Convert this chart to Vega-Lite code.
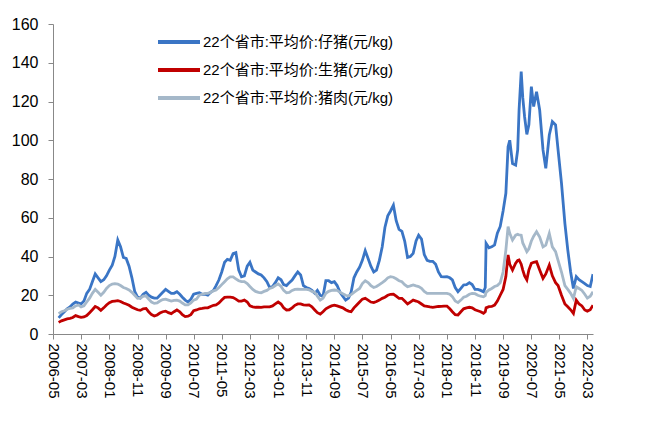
{
 "$schema": "https://vega.github.io/schema/vega-lite/v6.json",
 "width": 540, "height": 310,
 "autosize": {"type": "none"},
 "padding": {"left": 53, "top": 24, "right": 55, "bottom": 108},
 "config": {"view": {"stroke": null}, "font": "Liberation Sans, Noto Sans CJK SC", "background": "white"},
 "data": {"values": [
 {"date":"2006-07-01","piglet":8.3,"hog":6.0,"pork":10.5},
 {"date":"2006-08-01","piglet":10,"hog":6.8,"pork":11.5},
 {"date":"2006-09-01","piglet":11.5,"hog":7.3,"pork":12},
 {"date":"2006-10-01","piglet":13,"hog":7.8,"pork":12.8},
 {"date":"2006-11-01","piglet":14,"hog":8.1,"pork":13.2},
 {"date":"2006-12-01","piglet":15.5,"hog":8.5,"pork":13.5},
 {"date":"2007-01-01","piglet":16.5,"hog":9.5,"pork":14.5},
 {"date":"2007-02-01","piglet":16,"hog":9.0,"pork":15},
 {"date":"2007-03-01","piglet":15.5,"hog":8.6,"pork":14},
 {"date":"2007-04-01","piglet":17,"hog":8.8,"pork":14.5},
 {"date":"2007-05-01","piglet":21,"hog":9.5,"pork":16.5},
 {"date":"2007-06-01","piglet":23,"hog":11,"pork":18.5},
 {"date":"2007-07-01","piglet":27,"hog":12.5,"pork":21},
 {"date":"2007-08-01","piglet":31,"hog":14.2,"pork":23},
 {"date":"2007-09-01","piglet":29,"hog":13.5,"pork":21.5},
 {"date":"2007-10-01","piglet":27,"hog":12.2,"pork":20},
 {"date":"2007-11-01","piglet":28,"hog":13.5,"pork":21.5},
 {"date":"2007-12-01","piglet":30,"hog":15,"pork":23.5},
 {"date":"2008-01-01","piglet":33,"hog":16.2,"pork":25},
 {"date":"2008-02-01","piglet":35.5,"hog":16.8,"pork":25.8},
 {"date":"2008-03-01","piglet":40,"hog":17,"pork":26},
 {"date":"2008-04-01","piglet":48.5,"hog":17.2,"pork":25.8},
 {"date":"2008-05-01","piglet":45,"hog":16.8,"pork":25},
 {"date":"2008-06-01","piglet":39.5,"hog":16,"pork":24},
 {"date":"2008-07-01","piglet":39,"hog":15.5,"pork":23.5},
 {"date":"2008-08-01","piglet":35,"hog":14.8,"pork":22.7},
 {"date":"2008-09-01","piglet":29,"hog":13.8,"pork":21.5},
 {"date":"2008-10-01","piglet":22,"hog":13.2,"pork":20},
 {"date":"2008-11-01","piglet":19,"hog":12.5,"pork":18.4},
 {"date":"2008-12-01","piglet":18.5,"hog":12.2,"pork":18.5},
 {"date":"2009-01-01","piglet":20.5,"hog":13,"pork":19.5},
 {"date":"2009-02-01","piglet":21.5,"hog":13.2,"pork":19.6},
 {"date":"2009-03-01","piglet":20,"hog":11.5,"pork":18},
 {"date":"2009-04-01","piglet":19,"hog":10,"pork":16.5},
 {"date":"2009-05-01","piglet":18.5,"hog":9.3,"pork":15.8},
 {"date":"2009-06-01","piglet":18.5,"hog":9.8,"pork":16},
 {"date":"2009-07-01","piglet":20,"hog":10.8,"pork":17},
 {"date":"2009-08-01","piglet":21.5,"hog":11.5,"pork":17.8},
 {"date":"2009-09-01","piglet":23,"hog":11.8,"pork":18},
 {"date":"2009-10-01","piglet":22,"hog":11,"pork":17.5},
 {"date":"2009-11-01","piglet":21,"hog":10.5,"pork":17},
 {"date":"2009-12-01","piglet":21,"hog":11.5,"pork":17.3},
 {"date":"2010-01-01","piglet":21.8,"hog":12.4,"pork":17.5},
 {"date":"2010-02-01","piglet":20.5,"hog":11.5,"pork":17},
 {"date":"2010-03-01","piglet":19,"hog":10,"pork":16},
 {"date":"2010-04-01","piglet":17.5,"hog":9,"pork":15},
 {"date":"2010-05-01","piglet":16.5,"hog":9.2,"pork":15},
 {"date":"2010-06-01","piglet":18,"hog":10,"pork":16},
 {"date":"2010-07-01","piglet":20.5,"hog":12,"pork":17.5},
 {"date":"2010-08-01","piglet":21,"hog":12.4,"pork":18},
 {"date":"2010-09-01","piglet":21.3,"hog":13,"pork":20},
 {"date":"2010-10-01","piglet":20.5,"hog":13.2,"pork":20.5},
 {"date":"2010-11-01","piglet":20.5,"hog":13.5,"pork":21},
 {"date":"2010-12-01","piglet":20,"hog":13.5,"pork":21},
 {"date":"2011-01-01","piglet":21.5,"hog":14.2,"pork":21.5},
 {"date":"2011-02-01","piglet":22.5,"hog":14.8,"pork":22.3},
 {"date":"2011-03-01","piglet":25,"hog":15,"pork":22.7},
 {"date":"2011-04-01","piglet":28,"hog":16,"pork":24},
 {"date":"2011-05-01","piglet":32,"hog":17.5,"pork":25.5},
 {"date":"2011-06-01","piglet":37,"hog":18.9,"pork":27},
 {"date":"2011-07-01","piglet":38.5,"hog":19,"pork":28.5},
 {"date":"2011-08-01","piglet":38,"hog":19,"pork":29.5},
 {"date":"2011-09-01","piglet":41.5,"hog":18.8,"pork":29.5},
 {"date":"2011-10-01","piglet":42,"hog":18,"pork":28.5},
 {"date":"2011-11-01","piglet":33,"hog":17,"pork":27.5},
 {"date":"2011-12-01","piglet":29.5,"hog":17,"pork":27},
 {"date":"2012-01-01","piglet":30,"hog":17.5,"pork":27},
 {"date":"2012-02-01","piglet":35,"hog":16.5,"pork":26},
 {"date":"2012-03-01","piglet":37,"hog":14.5,"pork":24.5},
 {"date":"2012-04-01","piglet":33,"hog":14,"pork":23},
 {"date":"2012-05-01","piglet":32,"hog":13.8,"pork":22},
 {"date":"2012-06-01","piglet":31,"hog":13.8,"pork":21.5},
 {"date":"2012-07-01","piglet":30.5,"hog":13.7,"pork":21.3},
 {"date":"2012-08-01","piglet":29,"hog":14,"pork":22},
 {"date":"2012-09-01","piglet":27,"hog":14,"pork":22.5},
 {"date":"2012-10-01","piglet":24,"hog":14,"pork":23.5},
 {"date":"2012-11-01","piglet":24.5,"hog":14.5,"pork":24},
 {"date":"2012-12-01","piglet":26.5,"hog":15.5,"pork":25},
 {"date":"2013-01-01","piglet":29,"hog":16.5,"pork":25.8},
 {"date":"2013-02-01","piglet":28,"hog":15.5,"pork":24.5},
 {"date":"2013-03-01","piglet":25.5,"hog":13.5,"pork":22.5},
 {"date":"2013-04-01","piglet":25,"hog":12.4,"pork":21.3},
 {"date":"2013-05-01","piglet":26.5,"hog":12.5,"pork":21.5},
 {"date":"2013-06-01","piglet":27.8,"hog":13.5,"pork":22.5},
 {"date":"2013-07-01","piglet":30,"hog":14.8,"pork":23},
 {"date":"2013-08-01","piglet":32,"hog":15.5,"pork":23.2},
 {"date":"2013-09-01","piglet":30.5,"hog":15.5,"pork":23},
 {"date":"2013-10-01","piglet":25,"hog":15,"pork":23},
 {"date":"2013-11-01","piglet":24,"hog":14.9,"pork":23},
 {"date":"2013-12-01","piglet":23.5,"hog":15,"pork":22.8},
 {"date":"2014-01-01","piglet":22.5,"hog":14,"pork":22},
 {"date":"2014-02-01","piglet":21,"hog":12.4,"pork":21.5},
 {"date":"2014-03-01","piglet":22.5,"hog":11,"pork":19.5},
 {"date":"2014-04-01","piglet":20,"hog":10.3,"pork":17.5},
 {"date":"2014-05-01","piglet":19.5,"hog":11.5,"pork":18.5},
 {"date":"2014-06-01","piglet":27.5,"hog":13,"pork":21},
 {"date":"2014-07-01","piglet":27.5,"hog":13.8,"pork":22},
 {"date":"2014-08-01","piglet":26.5,"hog":14.5,"pork":22.5},
 {"date":"2014-09-01","piglet":27,"hog":14.9,"pork":22.7},
 {"date":"2014-10-01","piglet":25,"hog":14.5,"pork":22.5},
 {"date":"2014-11-01","piglet":21.5,"hog":14,"pork":21.5},
 {"date":"2014-12-01","piglet":19.5,"hog":13.5,"pork":20.8},
 {"date":"2015-01-01","piglet":17.5,"hog":12.5,"pork":20},
 {"date":"2015-02-01","piglet":18.5,"hog":11.8,"pork":19.6},
 {"date":"2015-03-01","piglet":21.5,"hog":11.5,"pork":20.3},
 {"date":"2015-04-01","piglet":29,"hog":13.5,"pork":21.5},
 {"date":"2015-05-01","piglet":32,"hog":15,"pork":22.5},
 {"date":"2015-06-01","piglet":34.5,"hog":16.5,"pork":23.5},
 {"date":"2015-07-01","piglet":38,"hog":18,"pork":26},
 {"date":"2015-08-01","piglet":43,"hog":18.4,"pork":27.5},
 {"date":"2015-09-01","piglet":39,"hog":17.5,"pork":26.5},
 {"date":"2015-10-01","piglet":35,"hog":16.5,"pork":25},
 {"date":"2015-11-01","piglet":32,"hog":16.2,"pork":24},
 {"date":"2015-12-01","piglet":33,"hog":16.8,"pork":24.5},
 {"date":"2016-01-01","piglet":38,"hog":17.5,"pork":25.5},
 {"date":"2016-02-01","piglet":45,"hog":18.4,"pork":26.5},
 {"date":"2016-03-01","piglet":55,"hog":19,"pork":27.5},
 {"date":"2016-04-01","piglet":61,"hog":20,"pork":29},
 {"date":"2016-05-01","piglet":63.5,"hog":20.5,"pork":29.6},
 {"date":"2016-06-01","piglet":66.5,"hog":20.6,"pork":29.3},
 {"date":"2016-07-01","piglet":58.5,"hog":19.5,"pork":28.5},
 {"date":"2016-08-01","piglet":54,"hog":18.4,"pork":27.5},
 {"date":"2016-09-01","piglet":53,"hog":18.4,"pork":27},
 {"date":"2016-10-01","piglet":48,"hog":17,"pork":25.5},
 {"date":"2016-11-01","piglet":39.5,"hog":15.5,"pork":24.4},
 {"date":"2016-12-01","piglet":40,"hog":16.5,"pork":24.8},
 {"date":"2017-01-01","piglet":41.6,"hog":17.5,"pork":25.3},
 {"date":"2017-02-01","piglet":48,"hog":17,"pork":24.8},
 {"date":"2017-03-01","piglet":51,"hog":16.5,"pork":24.5},
 {"date":"2017-04-01","piglet":49,"hog":15.5,"pork":23.6},
 {"date":"2017-05-01","piglet":41,"hog":14.5,"pork":22},
 {"date":"2017-06-01","piglet":38,"hog":14.3,"pork":21},
 {"date":"2017-07-01","piglet":37.5,"hog":14,"pork":21},
 {"date":"2017-08-01","piglet":37.5,"hog":13.8,"pork":21},
 {"date":"2017-09-01","piglet":36,"hog":14,"pork":21},
 {"date":"2017-10-01","piglet":32,"hog":14.2,"pork":21},
 {"date":"2017-11-01","piglet":29.6,"hog":14.3,"pork":21},
 {"date":"2017-12-01","piglet":29.5,"hog":14.4,"pork":21},
 {"date":"2018-01-01","piglet":29.6,"hog":14.4,"pork":21},
 {"date":"2018-02-01","piglet":29,"hog":13,"pork":20.5},
 {"date":"2018-03-01","piglet":27.9,"hog":11.5,"pork":19.3},
 {"date":"2018-04-01","piglet":24,"hog":10,"pork":17},
 {"date":"2018-05-01","piglet":21.8,"hog":9.8,"pork":16.2},
 {"date":"2018-06-01","piglet":23.5,"hog":11.5,"pork":17.5},
 {"date":"2018-07-01","piglet":25.3,"hog":13,"pork":19},
 {"date":"2018-08-01","piglet":25.5,"hog":13.5,"pork":19.5},
 {"date":"2018-09-01","piglet":26.5,"hog":13.8,"pork":20.5},
 {"date":"2018-10-01","piglet":25.5,"hog":13.5,"pork":21},
 {"date":"2018-11-01","piglet":23,"hog":12.5,"pork":20.8},
 {"date":"2018-12-01","piglet":23,"hog":12,"pork":20},
 {"date":"2019-01-01","piglet":22.5,"hog":11.5,"pork":19.5},
 {"date":"2019-02-01","piglet":21.8,"hog":10.7,"pork":19.2},
 {"date":"2019-02-20","piglet":24,"hog":11.5,"pork":19.8},
 {"date":"2019-03-01","piglet":46.8,"hog":13.5,"pork":21.5},
 {"date":"2019-04-01","piglet":44.5,"hog":14.1,"pork":22.7},
 {"date":"2019-05-01","piglet":45,"hog":14.2,"pork":23.5},
 {"date":"2019-06-01","piglet":46,"hog":14.9,"pork":24.5},
 {"date":"2019-07-01","piglet":52,"hog":17,"pork":25},
 {"date":"2019-08-01","piglet":55.5,"hog":20,"pork":26.5},
 {"date":"2019-09-01","piglet":63.5,"hog":23,"pork":32},
 {"date":"2019-10-01","piglet":72.6,"hog":29.6,"pork":43.3},
 {"date":"2019-10-25","piglet":96.7,"hog":40.8,"pork":55.4},
 {"date":"2019-11-12","piglet":100,"hog":36,"pork":52},
 {"date":"2019-12-12","piglet":88,"hog":33,"pork":48.5},
 {"date":"2020-01-15","piglet":87.2,"hog":36.5,"pork":51},
 {"date":"2020-02-06","piglet":95,"hog":38,"pork":51.5},
 {"date":"2020-02-21","piglet":115.6,"hog":38.2,"pork":51.1},
 {"date":"2020-03-15","piglet":135.4,"hog":36,"pork":51},
 {"date":"2020-04-01","piglet":122,"hog":33,"pork":47},
 {"date":"2020-04-21","piglet":112,"hog":30,"pork":45},
 {"date":"2020-05-15","piglet":103,"hog":28,"pork":42.5},
 {"date":"2020-06-06","piglet":108,"hog":33,"pork":44},
 {"date":"2020-07-03","piglet":127.7,"hog":36.5,"pork":48},
 {"date":"2020-07-28","piglet":117.4,"hog":37,"pork":50.5},
 {"date":"2020-08-28","piglet":125,"hog":37.3,"pork":52.8},
 {"date":"2020-10-01","piglet":115.6,"hog":33,"pork":50},
 {"date":"2020-11-06","piglet":95,"hog":28.7,"pork":45},
 {"date":"2020-12-06","piglet":85.5,"hog":31,"pork":45.9},
 {"date":"2021-01-13","piglet":102.7,"hog":35.6,"pork":51.9},
 {"date":"2021-02-15","piglet":109.6,"hog":30,"pork":45},
 {"date":"2021-03-22","piglet":107.9,"hog":26.5,"pork":42.5},
 {"date":"2021-04-18","piglet":95,"hog":25,"pork":38},
 {"date":"2021-05-25","piglet":77.8,"hog":20,"pork":32},
 {"date":"2021-07-01","piglet":57,"hog":15.5,"pork":25},
 {"date":"2021-08-01","piglet":43.4,"hog":14.1,"pork":23},
 {"date":"2021-09-01","piglet":32,"hog":12.5,"pork":21},
 {"date":"2021-10-01","piglet":23.5,"hog":10.6,"pork":18.4},
 {"date":"2021-11-01","piglet":29.6,"hog":17.5,"pork":24.4},
 {"date":"2021-12-01","piglet":28,"hog":15.5,"pork":23.5},
 {"date":"2022-01-01","piglet":27,"hog":14.5,"pork":22.5},
 {"date":"2022-02-01","piglet":26,"hog":12.4,"pork":20.5},
 {"date":"2022-03-01","piglet":25,"hog":11.8,"pork":18.5},
 {"date":"2022-04-01","piglet":24.5,"hog":12.5,"pork":19.5},
 {"date":"2022-05-01","piglet":30.9,"hog":14.9,"pork":21.8}
 ]},
 "transform": [{"fold": ["piglet", "hog", "pork"], "as": ["series", "value"]}],
 "mark": {"type": "line", "strokeWidth": 2.8, "clip": true},
 "encoding": {
  "x": {"field": "date", "type": "temporal",
   "scale": {"type": "utc", "domain": [{"year": 2006, "month": 5, "date": 1, "utc": true}, {"year": 2022, "month": 5, "date": 1, "utc": true}]},
   "axis": {"title": null, "grid": false, "labelExpr": "utcFormat(datum.value, '%Y-%m')",
    "values": [
     {"year": 2006, "month": 5, "utc": true}, {"year": 2007, "month": 3, "utc": true}, {"year": 2008, "month": 1, "utc": true},
     {"year": 2008, "month": 11, "utc": true}, {"year": 2009, "month": 9, "utc": true}, {"year": 2010, "month": 7, "utc": true},
     {"year": 2011, "month": 5, "utc": true}, {"year": 2012, "month": 3, "utc": true}, {"year": 2013, "month": 1, "utc": true},
     {"year": 2013, "month": 11, "utc": true}, {"year": 2014, "month": 9, "utc": true}, {"year": 2015, "month": 7, "utc": true},
     {"year": 2016, "month": 5, "utc": true}, {"year": 2017, "month": 3, "utc": true}, {"year": 2018, "month": 1, "utc": true},
     {"year": 2018, "month": 11, "utc": true}, {"year": 2019, "month": 9, "utc": true}, {"year": 2020, "month": 7, "utc": true},
     {"year": 2021, "month": 5, "utc": true}, {"year": 2022, "month": 3, "utc": true}],
    "labelAngle": 90, "labelAlign": "left", "labelBaseline": "middle", "labelFontSize": 15, "labelColor": "#000",
    "labelPadding": 4, "tickSize": 5, "tickColor": "#888888", "domainColor": "#888888", "labelOverlap": false, "labelFlush": false}},
  "y": {"field": "value", "type": "quantitative",
   "scale": {"domain": [0, 160]},
   "axis": {"title": null, "grid": false, "values": [0, 20, 40, 60, 80, 100, 120, 140, 160],
    "labelFontSize": 16, "labelColor": "#000", "labelPadding": 10, "tickSize": 5,
    "tickColor": "#888888", "domainColor": "#888888"}},
  "color": {"field": "series", "type": "nominal",
   "scale": {"domain": ["piglet", "hog", "pork"], "range": ["#3A75C5", "#C00000", "#A5B8C9"]},
   "legend": {"orient": "none", "legendX": 114, "legendY": 6, "title": null,
    "labelExpr": "datum.value == 'piglet' ? '22个省市:平均价:仔猪(元/kg)' : datum.value == 'hog' ? '22个省市:平均价:生猪(元/kg)' : '22个省市:平均价:猪肉(元/kg)'",
    "symbolType": "M-2.1,0H2.1", "symbolSize": 400, "symbolStrokeWidth": 4, "labelFontSize": 15, "labelColor": "#000",
    "labelLimit": 400, "labelOffset": 12, "rowPadding": 8}}
 }
}
